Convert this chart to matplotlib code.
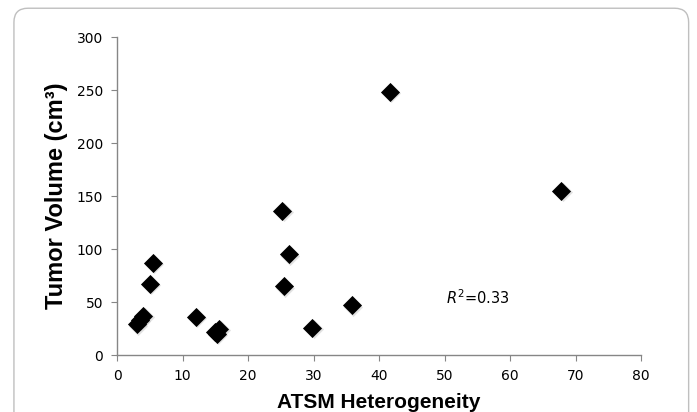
import matplotlib
matplotlib.use("Agg")
import matplotlib.pyplot as plt
from matplotlib.patches import FancyBboxPatch

# Data
atsm_heterogeneity = [3.0, 3.5, 4.0, 5.0, 5.5, 12.0, 15.0, 15.2, 15.6, 25.2, 25.5, 26.2, 29.8, 35.8, 41.6, 67.8]
tumor_volume = [29, 33, 37, 67, 87, 36, 22, 20, 25, 136, 65, 95, 26, 47, 248, 155]
x_ticks = [0, 10, 20, 30, 40, 50, 60, 70, 80]
y_ticks = [0, 50, 100, 150, 200, 250, 300]
r2_text = "$\\mathit{R}^2$=0.33"

fig = plt.figure(figsize=(6.97, 4.12), dpi=100)
box = FancyBboxPatch((0.02, -0.05), 0.968, 1.03, boxstyle="round,pad=0,rounding_size=0.02",
                     transform=fig.transFigure, facecolor="none", edgecolor="#bfbfbf", lw=1.0,
                     mutation_aspect=697/412, zorder=-5)
fig.patches.append(box)

ax = fig.add_axes([0.168, 0.138, 0.752, 0.772])
ax.patch.set_alpha(0)
ax.scatter([x + 0.2 for x in atsm_heterogeneity], [y - 1.2 for y in tumor_volume],
           marker="D", s=95, color="#b8b8b8", alpha=0.4, linewidths=0, zorder=2)
ax.scatter(atsm_heterogeneity, tumor_volume, marker="D", s=95, color="black", linewidths=0, zorder=3)

ax.set_xlim(0, 80)
ax.set_ylim(0, 300)
ax.set_xticks(x_ticks)
ax.set_yticks(y_ticks)
for s in ["top", "right"]:
    ax.spines[s].set_visible(False)
for s in ["left", "bottom"]:
    ax.spines[s].set_color("#868686")
    ax.spines[s].set_linewidth(1.0)
ax.tick_params(axis="both", direction="out", length=4, color="#868686", labelsize=10, labelcolor="black")
ax.tick_params(axis="y", pad=6)
ax.tick_params(axis="x", pad=6)
ax.set_xlabel("ATSM Heterogeneity", fontsize=15, fontweight="bold", family="Liberation Sans", labelpad=7)
ax.set_ylabel("Tumor Volume (cm³)", fontsize=17, fontweight="bold", family="Liberation Sans", labelpad=6)
ax.text(55, 54, r2_text, fontsize=10.5, ha="center", va="center")

fig.savefig("out.png", dpi=100)
